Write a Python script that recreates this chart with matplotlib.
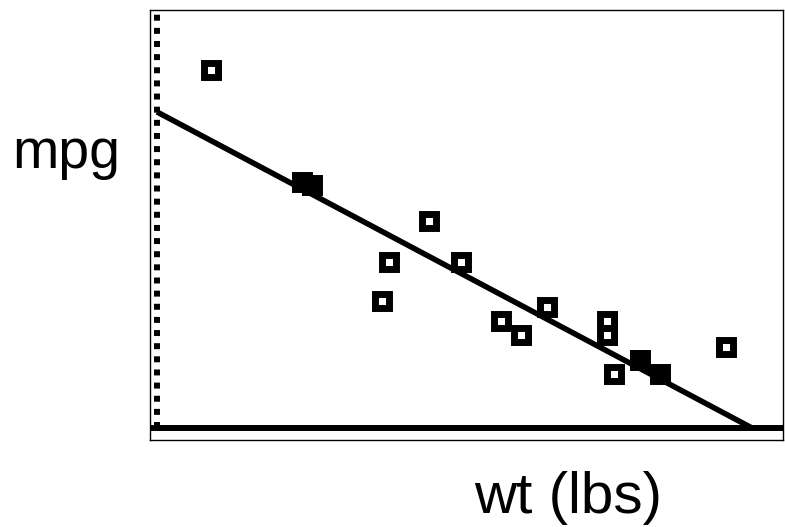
import numpy as np
import matplotlib.pyplot as plt

# scatter of car weight vs mileage, calculator-screen style
wt = [545, 1460, 1565, 2745, 2340, 3065, 2270, 3935, 3470, 3670,
      4540, 4540, 4870, 5070, 4610, 5740]
mpg = [45.3, 31.1, 30.7, 26.2, 21.0, 21.0, 16.1, 15.3, 13.5, 11.8,
       13.5, 11.8, 8.6, 6.8, 6.8, 10.3]

# regression line ends
line_wt = [0, 6000]
line_mpg = [40, 0]

W, H = 785, 527
fig = plt.figure(figsize=(W / 100, H / 100), dpi=100)
ax = fig.add_axes([150 / W, 1 - 440 / H, 633 / W, 430 / H])

ax.set_xlim(-70.6, 6312.6)
ax.set_ylim(-1.52, 52.9)

# axes of the window
ax.plot([-70.6, 6312.6], [0, 0], color='black', lw=4.3, solid_capstyle='butt')
ax.plot([0, 0], [0, 52.5], color='black', lw=4.3, linestyle=(0, (1, 1.2)),
        dash_capstyle='butt')

ax.plot(line_wt, line_mpg, color='black', lw=4.0, solid_capstyle='butt')

# points lying on the line show up as solid blocks on the screen
x = np.array(wt)
y = np.array(mpg)
fit = np.interp(x, line_wt, line_mpg)
on = np.abs(y - fit) < 1.2
ax.plot(x[~on], y[~on], 's', ms=9.4, mew=5.0, mec='black', mfc='none')
ax.plot(x[on], y[on], 's', ms=9.4, mew=5.0, mec='black', mfc='black')

ax.set_xticks([])
ax.set_yticks([])
for s in ax.spines.values():
    s.set_linewidth(1.0)

fig.text(12 / W, 1 - 168 / H, 'mpg', fontsize=40, family='Liberation Sans',
         va='baseline', ha='left')
fig.text(568 / W, 1 - 513 / H, 'wt (lbs)', fontsize=42, family='Liberation Sans',
         va='baseline', ha='center')

fig.savefig('out.png', dpi=100)
